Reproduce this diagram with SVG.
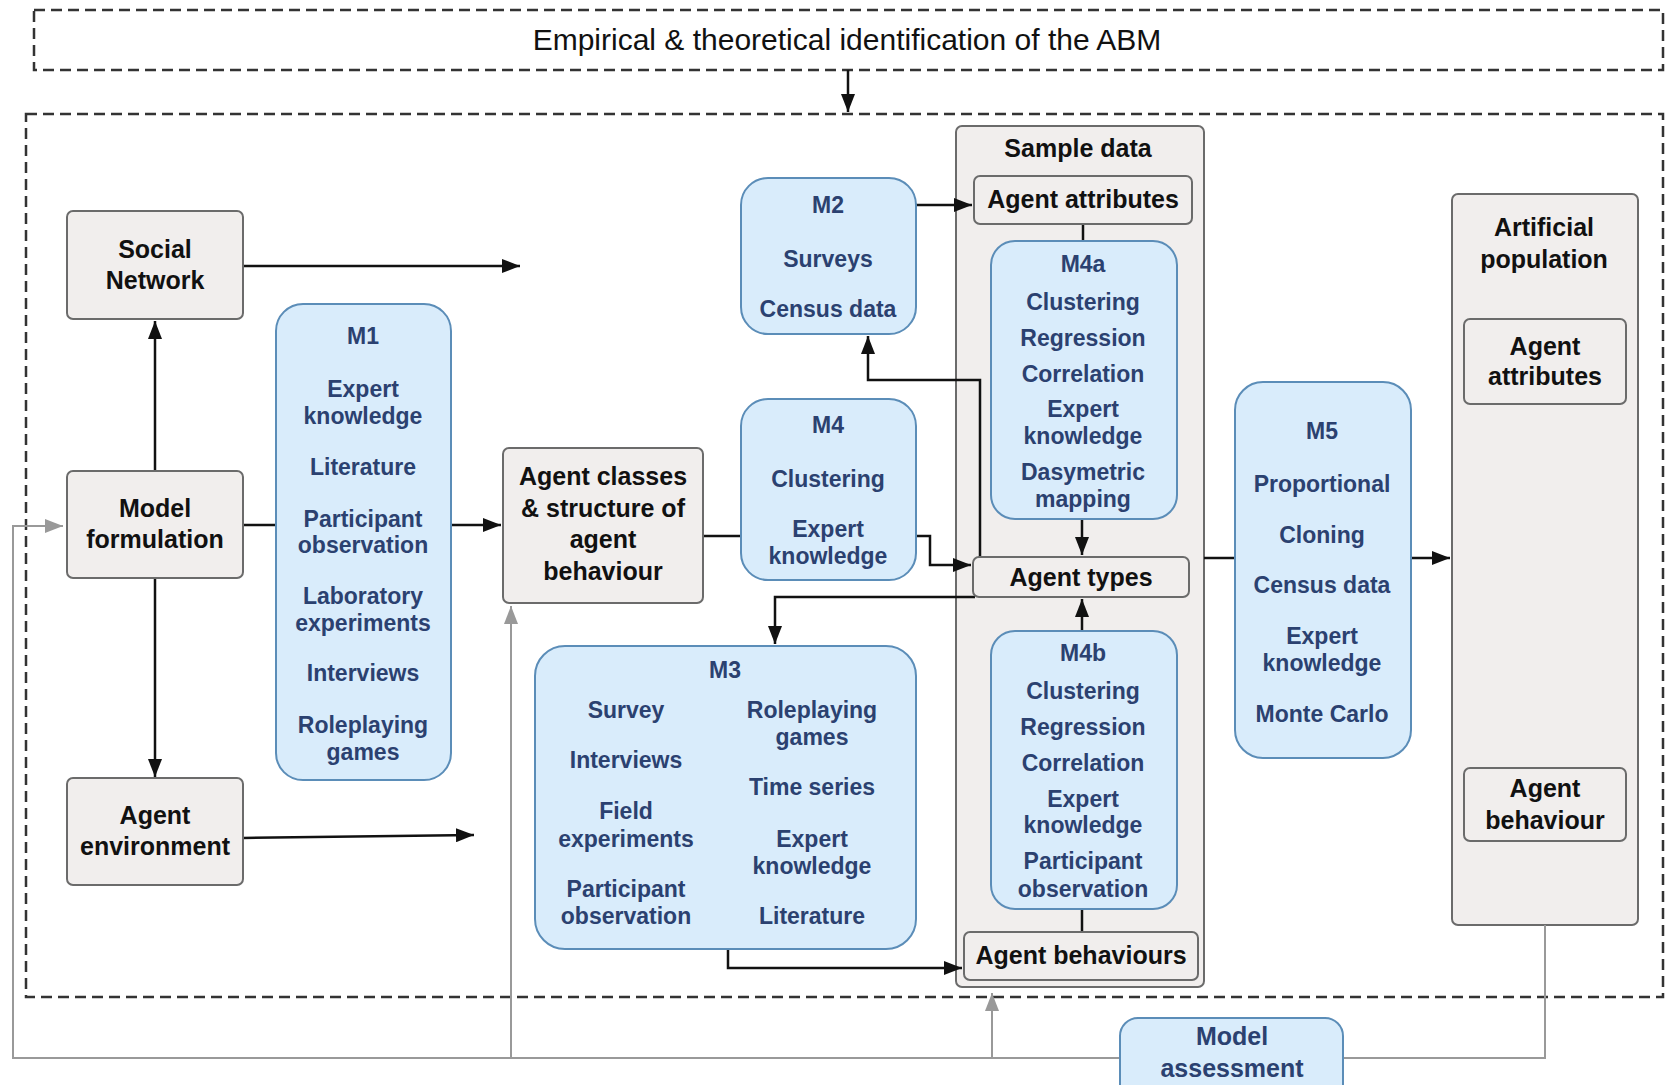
<svg xmlns="http://www.w3.org/2000/svg" width="1668" height="1085" viewBox="0 0 1668 1085">
  <defs>
    <style>
      .frame { fill: none; stroke: #333; stroke-width: 2.5; stroke-dasharray: 11 6; }
      .gbox { fill: #f1eeed; stroke: #6b6b6b; stroke-width: 2; }
      .bbox { fill: #d9ecfb; stroke: #5b8db8; stroke-width: 2; }
      .lbl { font-family: "Liberation Sans", Arial, sans-serif; font-weight: bold; font-size: 25px; fill: #111; text-anchor: middle; }
      .blu { font-family: "Liberation Sans", Arial, sans-serif; font-weight: bold; font-size: 23px; fill: #2b4170; text-anchor: middle; }
      .title { font-family: "Liberation Sans", Arial, sans-serif; font-size: 30px; fill: #111; text-anchor: middle; }
      .conn { fill: none; stroke: #111; stroke-width: 2.5; }
      .fb { fill: none; stroke: #999; stroke-width: 2; }
    </style>
    <marker id="arr" viewBox="0 0 18 14" refX="18" refY="7" markerWidth="18" markerHeight="14" markerUnits="userSpaceOnUse" orient="auto">
      <path d="M0 0 L18 7 L0 14 Z" fill="#111"/>
    </marker>
    <marker id="arrg" viewBox="0 0 18 14" refX="18" refY="7" markerWidth="18" markerHeight="14" markerUnits="userSpaceOnUse" orient="auto">
      <path d="M0 0 L18 7 L0 14 Z" fill="#999"/>
    </marker>
  </defs>

  <rect width="1668" height="1085" fill="#fff"/>

  <!-- dashed frames -->
  <g id="identification">
    <rect class="frame" x="34" y="10" width="1629" height="60"/>
    <text class="title" x="847" y="50">Empirical &amp; theoretical identification of the ABM</text>
  </g>
  <rect id="abm-frame" class="frame" x="26" y="114" width="1637" height="883"/>

  <!-- container panels (drawn beneath the connectors) -->
  <g id="sample-data">
    <rect class="gbox" x="956" y="126" width="248" height="861" rx="6"/>
    <text class="lbl" x="1078" y="157">Sample data</text>
  </g>
  <g id="artificial-population">
    <rect class="gbox" x="1452" y="194" width="186" height="731" rx="6"/>
    <text class="lbl" x="1544" y="236">Artificial</text>
    <text class="lbl" x="1544" y="268">population</text>
  </g>

  <!-- connectors -->
  <g id="connectors">
    <path class="fb" d="M1545 925 V1058 H1343"/>
    <path class="fb" d="M1120 1058 H13 V526 H63" marker-end="url(#arrg)"/>
    <path class="fb" d="M511 1058 V606" marker-end="url(#arrg)"/>
    <path class="fb" d="M992 1058 V993" marker-end="url(#arrg)"/>

    <path class="conn" d="M848 70 V112" marker-end="url(#arr)"/>
    <path class="conn" d="M243 266 H520" marker-end="url(#arr)"/>
    <path class="conn" d="M155 471 V321" marker-end="url(#arr)"/>
    <path class="conn" d="M155 578 V777" marker-end="url(#arr)"/>
    <path class="conn" d="M243 525 H276"/>
    <path class="conn" d="M451 525 H501" marker-end="url(#arr)"/>
    <path class="conn" d="M243 838 L474 835" marker-end="url(#arr)"/>
    <path class="conn" d="M703 536 H741"/>
    <path class="conn" d="M916 536 H930 V565 H971" marker-end="url(#arr)"/>
    <path class="conn" d="M980 557 V380 H868 V336" marker-end="url(#arr)"/>
    <path class="conn" d="M975 597 H775 V644" marker-end="url(#arr)"/>
    <path class="conn" d="M916 205 H972" marker-end="url(#arr)"/>
    <path class="conn" d="M1083 224 V241"/>
    <path class="conn" d="M1082 519 V555" marker-end="url(#arr)"/>
    <path class="conn" d="M1082 631 V599" marker-end="url(#arr)"/>
    <path class="conn" d="M1082 909 V932"/>
    <path class="conn" d="M728 949 V968 H962" marker-end="url(#arr)"/>
    <path class="conn" d="M1204 558 H1235"/>
    <path class="conn" d="M1411 558 H1450" marker-end="url(#arr)"/>
  </g>

  <!-- left column -->
  <g id="social-network">
    <rect class="gbox" x="67" y="211" width="176" height="108" rx="6"/>
    <text class="lbl" x="155" y="258">Social</text>
    <text class="lbl" x="155" y="289">Network</text>
  </g>
  <g id="model-formulation">
    <rect class="gbox" x="67" y="471" width="176" height="107" rx="6"/>
    <text class="lbl" x="155" y="517">Model</text>
    <text class="lbl" x="155" y="548">formulation</text>
  </g>
  <g id="agent-environment">
    <rect class="gbox" x="67" y="778" width="176" height="107" rx="6"/>
    <text class="lbl" x="155" y="824">Agent</text>
    <text class="lbl" x="155" y="855">environment</text>
  </g>

  <g id="m1">
    <rect class="bbox" x="276" y="304" width="175" height="476" rx="27"/>
    <text class="blu" x="363" y="344">M1</text>
    <text class="blu" x="363" y="397">Expert</text>
    <text class="blu" x="363" y="424">knowledge</text>
    <text class="blu" x="363" y="475">Literature</text>
    <text class="blu" x="363" y="527">Participant</text>
    <text class="blu" x="363" y="553">observation</text>
    <text class="blu" x="363" y="604">Laboratory</text>
    <text class="blu" x="363" y="631">experiments</text>
    <text class="blu" x="363" y="681">Interviews</text>
    <text class="blu" x="363" y="733">Roleplaying</text>
    <text class="blu" x="363" y="760">games</text>
  </g>

  <g id="agent-classes">
    <rect class="gbox" x="503" y="448" width="200" height="155" rx="6"/>
    <text class="lbl" x="603" y="485">Agent classes</text>
    <text class="lbl" x="603" y="517">&amp; structure of</text>
    <text class="lbl" x="603" y="548">agent</text>
    <text class="lbl" x="603" y="580">behaviour</text>
  </g>

  <g id="m2">
    <rect class="bbox" x="741" y="178" width="175" height="156" rx="27"/>
    <text class="blu" x="828" y="213">M2</text>
    <text class="blu" x="828" y="267">Surveys</text>
    <text class="blu" x="828" y="317">Census data</text>
  </g>

  <g id="m4">
    <rect class="bbox" x="741" y="399" width="175" height="181" rx="27"/>
    <text class="blu" x="828" y="433">M4</text>
    <text class="blu" x="828" y="487">Clustering</text>
    <text class="blu" x="828" y="537">Expert</text>
    <text class="blu" x="828" y="564">knowledge</text>
  </g>

  <g id="m3">
    <rect class="bbox" x="535" y="646" width="381" height="303" rx="30"/>
    <text class="blu" x="725" y="678">M3</text>
    <text class="blu" x="626" y="718">Survey</text>
    <text class="blu" x="626" y="768">Interviews</text>
    <text class="blu" x="626" y="819">Field</text>
    <text class="blu" x="626" y="847">experiments</text>
    <text class="blu" x="626" y="897">Participant</text>
    <text class="blu" x="626" y="924">observation</text>
    <text class="blu" x="812" y="718">Roleplaying</text>
    <text class="blu" x="812" y="745">games</text>
    <text class="blu" x="812" y="795">Time series</text>
    <text class="blu" x="812" y="847">Expert</text>
    <text class="blu" x="812" y="874">knowledge</text>
    <text class="blu" x="812" y="924">Literature</text>
  </g>

  <!-- nodes inside the sample data panel -->
  <g id="sample-agent-attributes">
    <rect class="gbox" x="974" y="176" width="218" height="48" rx="6"/>
    <text class="lbl" x="1083" y="208">Agent attributes</text>
  </g>
  <g id="m4a">
    <rect class="bbox" x="991" y="241" width="186" height="278" rx="24"/>
    <text class="blu" x="1083" y="272">M4a</text>
    <text class="blu" x="1083" y="310">Clustering</text>
    <text class="blu" x="1083" y="346">Regression</text>
    <text class="blu" x="1083" y="382">Correlation</text>
    <text class="blu" x="1083" y="417">Expert</text>
    <text class="blu" x="1083" y="444">knowledge</text>
    <text class="blu" x="1083" y="480">Dasymetric</text>
    <text class="blu" x="1083" y="507">mapping</text>
  </g>
  <g id="agent-types">
    <rect class="gbox" x="973" y="557" width="216" height="40" rx="6"/>
    <text class="lbl" x="1081" y="586">Agent types</text>
  </g>
  <g id="m4b">
    <rect class="bbox" x="991" y="631" width="186" height="278" rx="24"/>
    <text class="blu" x="1083" y="661">M4b</text>
    <text class="blu" x="1083" y="699">Clustering</text>
    <text class="blu" x="1083" y="735">Regression</text>
    <text class="blu" x="1083" y="771">Correlation</text>
    <text class="blu" x="1083" y="807">Expert</text>
    <text class="blu" x="1083" y="833">knowledge</text>
    <text class="blu" x="1083" y="869">Participant</text>
    <text class="blu" x="1083" y="897">observation</text>
  </g>
  <g id="agent-behaviours">
    <rect class="gbox" x="964" y="932" width="234" height="48" rx="6"/>
    <text class="lbl" x="1081" y="964">Agent behaviours</text>
  </g>

  <g id="m5">
    <rect class="bbox" x="1235" y="382" width="176" height="376" rx="28"/>
    <text class="blu" x="1322" y="439">M5</text>
    <text class="blu" x="1322" y="492">Proportional</text>
    <text class="blu" x="1322" y="543">Cloning</text>
    <text class="blu" x="1322" y="593">Census data</text>
    <text class="blu" x="1322" y="644">Expert</text>
    <text class="blu" x="1322" y="671">knowledge</text>
    <text class="blu" x="1322" y="722">Monte Carlo</text>
  </g>

  <!-- nodes inside the artificial population panel -->
  <g id="pop-agent-attributes">
    <rect class="gbox" x="1464" y="319" width="162" height="85" rx="6"/>
    <text class="lbl" x="1545" y="355">Agent</text>
    <text class="lbl" x="1545" y="385">attributes</text>
  </g>
  <g id="pop-agent-behaviour">
    <rect class="gbox" x="1464" y="768" width="162" height="73" rx="6"/>
    <text class="lbl" x="1545" y="797">Agent</text>
    <text class="lbl" x="1545" y="829">behaviour</text>
  </g>

  <g id="model-assessment">
    <rect class="bbox" x="1120" y="1018" width="223" height="90" rx="18"/>
    <text class="blu" style="font-size:25px" x="1232" y="1045">Model</text>
    <text class="blu" style="font-size:25px" x="1232" y="1077">assessment</text>
  </g>
</svg>
